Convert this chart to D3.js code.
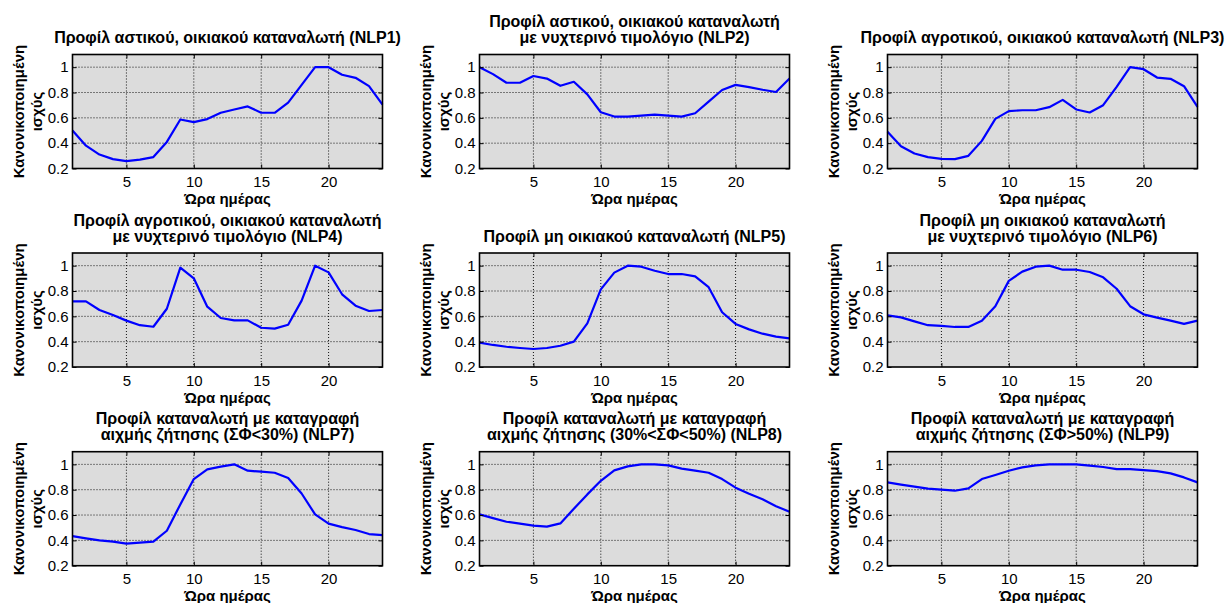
<!DOCTYPE html>
<html>
<head>
<meta charset="utf-8">
<script src="https://cdn.jsdelivr.net/npm/d3@7/dist/d3.min.js"></script>
<style>
  html, body { margin: 0; padding: 0; background: #ffffff; }
  svg { display: block; }
  text { font-family: "Liberation Sans", Arial, Helvetica, sans-serif; fill: #000; }
</style>
</head>
<body>
<svg id="chart" width="1228" height="603"></svg>
<script>
// Hour of day (x categories)
const hours = [1, 2, 3, 4, 5, 6, 7, 8, 9, 10, 11, 12, 13, 14, 15, 16, 17, 18, 19, 20, 21, 22, 23, 24];

// Normalised load profiles, one array per profile
const nlp1 = [0.50, 0.38, 0.31, 0.274, 0.258, 0.27, 0.29, 0.41, 0.587, 0.566, 0.59, 0.64, 0.666, 0.69, 0.64, 0.64, 0.72, 0.86, 1.0, 1.0, 0.94, 0.916, 0.85, 0.705];
const nlp2 = [1.0, 0.945, 0.877, 0.877, 0.93, 0.91, 0.853, 0.885, 0.785, 0.644, 0.61, 0.61, 0.618, 0.626, 0.618, 0.61, 0.636, 0.728, 0.82, 0.86, 0.843, 0.822, 0.804, 0.91];
const nlp3 = [0.49, 0.376, 0.318, 0.29, 0.276, 0.274, 0.30, 0.418, 0.592, 0.653, 0.66, 0.66, 0.684, 0.742, 0.666, 0.642, 0.70, 0.845, 1.0, 0.984, 0.918, 0.908, 0.85, 0.687];
const nlp4 = [0.718, 0.718, 0.65, 0.61, 0.566, 0.53, 0.518, 0.66, 0.984, 0.90, 0.676, 0.587, 0.568, 0.568, 0.51, 0.503, 0.534, 0.724, 1.0, 0.947, 0.774, 0.684, 0.642, 0.65];
const nlp5 = [0.392, 0.374, 0.36, 0.35, 0.342, 0.35, 0.368, 0.40, 0.545, 0.813, 0.945, 1.0, 0.992, 0.96, 0.934, 0.934, 0.916, 0.83, 0.632, 0.54, 0.497, 0.463, 0.44, 0.426];
const nlp6 = [0.608, 0.592, 0.56, 0.53, 0.524, 0.516, 0.516, 0.566, 0.68, 0.88, 0.953, 0.992, 1.0, 0.968, 0.968, 0.95, 0.908, 0.818, 0.68, 0.616, 0.59, 0.566, 0.54, 0.566];
const nlp7 = [0.434, 0.416, 0.40, 0.39, 0.374, 0.382, 0.39, 0.476, 0.684, 0.884, 0.96, 0.982, 1.0, 0.95, 0.942, 0.934, 0.892, 0.77, 0.605, 0.532, 0.505, 0.482, 0.45, 0.442];
const nlp8 = [0.605, 0.576, 0.547, 0.532, 0.516, 0.508, 0.534, 0.65, 0.763, 0.87, 0.953, 0.984, 1.0, 1.0, 0.992, 0.966, 0.95, 0.934, 0.884, 0.816, 0.768, 0.724, 0.67, 0.626];
const nlp9 = [0.858, 0.84, 0.824, 0.808, 0.80, 0.792, 0.81, 0.884, 0.916, 0.95, 0.976, 0.992, 1.0, 1.0, 1.0, 0.99, 0.979, 0.963, 0.963, 0.955, 0.947, 0.929, 0.897, 0.858];

// Panel titles (one entry per text line)
const titles = [
  ["Προφίλ αστικού, οικιακού καταναλωτή (NLP1)"],
  ["Προφίλ αστικού, οικιακού καταναλωτή", "με νυχτερινό τιμολόγιο (NLP2)"],
  ["Προφίλ αγροτικού, οικιακού καταναλωτή (NLP3)"],
  ["Προφίλ αγροτικού, οικιακού καταναλωτή", "με νυχτερινό τιμολόγιο (NLP4)"],
  ["Προφίλ μη οικιακού καταναλωτή (NLP5)"],
  ["Προφίλ μη οικιακού καταναλωτή", "με νυχτερινό τιμολόγιο (NLP6)"],
  ["Προφίλ καταναλωτή με καταγραφή", "αιχμής ζήτησης (ΣΦ<30%) (NLP7)"],
  ["Προφίλ καταναλωτή με καταγραφή", "αιχμής ζήτησης (30%<ΣΦ<50%) (NLP8)"],
  ["Προφίλ καταναλωτή με καταγραφή", "αιχμής ζήτησης (ΣΦ>50%) (NLP9)"]
];

// Axis ticks and labels
const xTicks = [5, 10, 15, 20];
const yTicks = [0.2, 0.4, 0.6, 0.8, 1.0];
const yTickLabels = ["0.2", "0.4", "0.6", "0.8", "1"];
const xDomain = [1, 24];
const yDomain = [0.2, 1.1];
const xLabel = "Ώρα ημέρας";
const yLabelLines = ["Κανονικοποιημένη", "ισχύς"];

const series = [nlp1, nlp2, nlp3, nlp4, nlp5, nlp6, nlp7, nlp8, nlp9];

// Layout of the 3x3 grid of axes
const colLeft = [72.5, 479.5, 887.5];
const rowTop = [54.5, 253, 451.7];
const plotW = 310;
const plotH = 114;

const svg = d3.select("#chart");

series.forEach((values, i) => {
  const left = colLeft[i % 3];
  const top = rowTop[Math.floor(i / 3)];

  const x = d3.scaleLinear().domain(xDomain).range([0, plotW]);
  const y = d3.scaleLinear().domain(yDomain).range([plotH, 0]);

  const g = svg.append("g").attr("transform", `translate(${left},${top})`);

  // plot background
  g.append("rect")
    .attr("width", plotW).attr("height", plotH)
    .attr("fill", "#dcdcdc");

  // dotted grid
  g.append("g").selectAll("line").data(xTicks).join("line")
    .attr("x1", d => x(d)).attr("x2", d => x(d))
    .attr("y1", 0).attr("y2", plotH)
    .attr("stroke", "#111").attr("stroke-width", 1)
    .attr("stroke-dasharray", "1,2");
  g.append("g").selectAll("line").data(yTicks.filter(v => v > yDomain[0])).join("line")
    .attr("x1", 0).attr("x2", plotW)
    .attr("y1", d => y(d)).attr("y2", d => y(d))
    .attr("stroke", "#111").attr("stroke-width", 1)
    .attr("stroke-dasharray", "1,2");

  // profile line
  const line = d3.line().x((d, k) => x(hours[k])).y(d => y(d));
  g.append("path")
    .datum(values)
    .attr("d", line)
    .attr("fill", "none")
    .attr("stroke", "#0000ff")
    .attr("stroke-width", 2.2)
    .attr("stroke-linejoin", "round");

  // axes with inward ticks on all four sides
  const styleAxis = sel => {
    sel.select(".domain").remove();
    sel.selectAll(".tick line").attr("stroke", "#000").attr("stroke-width", 1);
    sel.selectAll(".tick text").style("font-size", "15px");
  };
  g.append("g")
    .attr("transform", `translate(0,${plotH})`)
    .call(d3.axisBottom(x).tickValues(xTicks).tickSize(-4).tickPadding(8))
    .call(styleAxis);
  g.append("g")
    .call(d3.axisLeft(y).tickValues(yTicks)
      .tickFormat((d, k) => yTickLabels[k]).tickSize(-4).tickPadding(4))
    .call(styleAxis);
  g.append("g")
    .call(d3.axisTop(x).tickValues(xTicks).tickSize(-4).tickFormat(""))
    .call(styleAxis);
  g.append("g")
    .attr("transform", `translate(${plotW},0)`)
    .call(d3.axisRight(y).tickValues(yTicks).tickSize(-4).tickFormat(""))
    .call(styleAxis);

  // axes frame
  g.append("rect")
    .attr("width", plotW).attr("height", plotH)
    .attr("fill", "none").attr("stroke", "#000").attr("stroke-width", 1.6);

  // title
  const lines = titles[i];
  g.append("g").selectAll("text").data(lines).join("text")
    .attr("x", plotW / 2)
    .attr("y", (d, k) => -11.5 - (lines.length - 1 - k) * 15.8)
    .attr("text-anchor", "middle")
    .style("font-size", "16px")
    .style("font-weight", "bold")
    .text(d => d);

  // x label
  g.append("text")
    .attr("x", plotW / 2).attr("y", plotH + 35.5)
    .attr("text-anchor", "middle")
    .style("font-size", "15px").style("font-weight", "bold")
    .text(xLabel);

  // y label (two rotated lines)
  yLabelLines.forEach((t, k) => {
    g.append("text")
      .attr("transform", `translate(${-48.5 + k * 17.5},${plotH / 2}) rotate(-90)`)
      .attr("text-anchor", "middle")
      .style("font-size", "15px").style("font-weight", "bold")
      .text(t);
  });
});
</script>
</body>
</html>
